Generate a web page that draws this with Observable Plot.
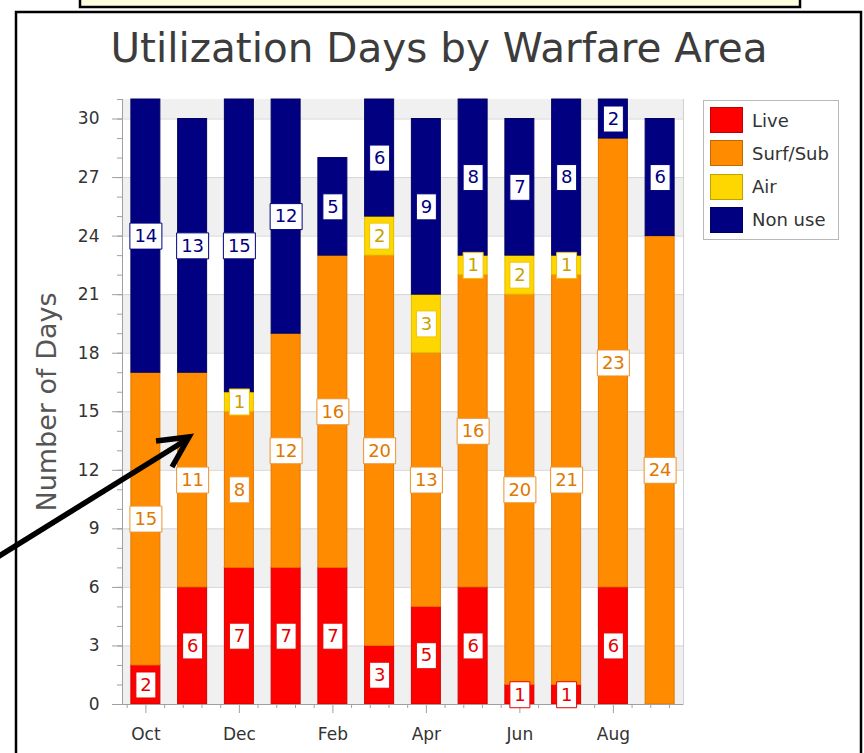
<!DOCTYPE html>
<html>
<head>
<meta charset="utf-8">
<script src="https://cdn.jsdelivr.net/npm/d3@7"></script>
<script src="https://cdn.jsdelivr.net/npm/@observablehq/plot@0.6"></script>
<style>
  html, body { margin: 0; padding: 0; background: #ffffff; }
  #wrap { position: relative; width: 864px; height: 753px; overflow: hidden; font-family: "DejaVu Sans", sans-serif; }
  #wrap > svg { position: absolute; left: 0; top: 0; }
  #legend { position: absolute; left: 703px; top: 100px; width: 136px; height: 140px; border: 1px solid #b8b8b8; background: #fff; box-sizing: border-box; }
  .lrow { position: absolute; left: 6px; height: 26px; display: flex; align-items: center; }
  .sw { width: 33px; height: 26px; box-sizing: border-box; border: 1px solid rgba(0,0,0,0.25); }
  .lt { margin-left: 9px; font-size: 18px; color: #333; white-space: nowrap; }
  #deco { position: absolute; left: 0; top: 0; pointer-events: none; }
</style>
</head>
<body>
<div id="wrap"></div>
<script>
// ---- data ----
const months = ["Oct","Nov","Dec","Jan","Feb","Mar","Apr","May","Jun","Jul","Aug","Sep"];
const seriesNames = ["Live","Surf/Sub","Air","Non use"];
const live    = [2, 6, 7, 7, 7, 3, 5, 6, 1, 1, 6, 0];
const surfSub = [15,11, 8,12,16,20,13,16,20,21,23,24];
const air     = [0, 0, 1, 0, 0, 2, 3, 1, 2, 1, 0, 0];
const nonUse  = [14,13,15,12, 5, 6, 9, 8, 7, 8, 2, 6];
const yTicks = [0,3,6,9,12,15,18,21,24,27,30];
const xTickLabels = ["Oct","Dec","Feb","Apr","Jun","Aug"];
const titleText = "Utilization Days by Warfare Area";
const yLabelText = "Number of Days";

// ---- styles ----
const fillColors  = ["#ff0000","#ff8c00","#ffd700","#000080"];
const edgeColors  = ["#d00000","#e27600","#e2bc00","#000060"];
const textColors  = ["#e60000","#e07800","#c9a200","#000080"];
const boxColors   = ["#e60000","#f0902a","#eec300","#000080"];

const seriesValues = [live, surfSub, air, nonUse];
const rows = [];
months.forEach((m, i) => {
  seriesNames.forEach((s, k) => {
    const v = seriesValues[k][i];
    if (v > 0) rows.push({month: m, series: s, value: v});
  });
});

// alternating background bands
const bands = [];
for (let i = 0; i < yTicks.length; i += 2) {
  const lo = yTicks[i];
  const hi = i + 1 < yTicks.length ? yTicks[i + 1] : 31;
  bands.push([lo, hi]);
}

const boxSymbol = (w, h) => ({ draw(ctx) { ctx.rect(-w / 2, -h / 2, w, h); } });
const narrowBox = boxSymbol(20, 26);
const wideBox = boxSymbol(32, 26);

const stacked = (extra) => Plot.stackY({x: "month", y: "value", ...extra});

const marks = [
  Plot.rect(bands, {y1: d => d[0], y2: d => d[1], fill: "#f0f0f0"}),
  Plot.ruleY(yTicks.filter(d => d > 0), {stroke: "#d6d6d6"})
];

seriesNames.forEach((s, k) => {
  marks.push(Plot.barY(rows, Plot.filter(d => d.series === s,
    stacked({fill: fillColors[k], stroke: edgeColors[k], strokeWidth: 1}))));
});

// axes
const step = 561 / 12;
marks.push(
  Plot.frame({anchor: "left", stroke: "#a0a0a0"}),
  Plot.frame({anchor: "right", stroke: "#d0d0d0"}),
  Plot.ruleY([0], {stroke: "#a0a0a0"}),
  Plot.axisY(d3.range(0, 32), {tickSize: 5, tickFormat: () => "", stroke: "#a0a0a0", label: null}),
  Plot.axisY(yTicks, {tickSize: 10, tickPadding: 13, fontSize: 17, fill: "#333", stroke: "#a0a0a0", label: null}),
  Plot.axisX(xTickLabels, {tickSize: 9, tickPadding: 14, fontSize: 17, fill: "#333", stroke: "#a0a0a0", label: null})
);
// minor x ticks
[-1, 1, 2, 3, 4].forEach(j => {
  let list = xTickLabels;
  if (j === -1) list = ["Oct"];
  if (j === 4) list = xTickLabels.slice(0, -1);
  marks.push(Plot.axisX(list, {tickSize: 4, tickFormat: () => "", stroke: "#a0a0a0", label: null, dx: j * step * 0.4}));
});

// value labels
seriesNames.forEach((s, k) => {
  marks.push(Plot.dot(rows, Plot.filter(d => d.series === s && d.value < 10,
    stacked({symbol: narrowBox, r: 1, fill: "white", stroke: boxColors[k], strokeWidth: 1}))));
  marks.push(Plot.dot(rows, Plot.filter(d => d.series === s && d.value >= 10,
    stacked({symbol: wideBox, r: 1, fill: "white", stroke: boxColors[k], strokeWidth: 1}))));
  marks.push(Plot.text(rows, Plot.filter(d => d.series === s,
    stacked({text: d => String(d.value), fill: textColors[k], fontSize: 18}))));
});

// title & y label
marks.push(
  Plot.text([titleText], {text: d => d, frameAnchor: "top", lineAnchor: "middle", textAnchor: "middle", dy: -50, dx: 36, fontSize: 40.5, fill: "#3c3c3c"}),
  Plot.text([yLabelText], {text: d => d, frameAnchor: "left", textAnchor: "middle", lineAnchor: "middle", rotate: -90, dx: -75, fontSize: 27, fill: "#555"})
);

const chart = Plot.plot({
  width: 864,
  height: 753,
  marginLeft: 122,
  marginRight: 181,
  marginTop: 99,
  marginBottom: 49,
  x: {domain: months, paddingInner: 0.38, paddingOuter: 0.19, round: false, axis: null},
  y: {domain: [0, 31], axis: null},
  style: {fontFamily: "DejaVu Sans, sans-serif", fontSize: "17px", color: "#333", background: "transparent", overflow: "visible"},
  marks
});

const wrap = document.getElementById("wrap");
wrap.appendChild(chart);

// legend
const legend = document.createElement("div");
legend.id = "legend";
seriesNames.forEach((s, k) => {
  const row = document.createElement("div");
  row.className = "lrow";
  row.style.top = (6 + k * 33.3) + "px";
  const sw = document.createElement("div");
  sw.className = "sw";
  sw.style.background = fillColors[k];
  const t = document.createElement("span");
  t.className = "lt";
  t.textContent = s;
  row.appendChild(sw);
  row.appendChild(t);
  legend.appendChild(row);
});
wrap.appendChild(legend);

// decorations: outer frame, top box, arrow
const NS = "http://www.w3.org/2000/svg";
const deco = document.createElementNS(NS, "svg");
deco.setAttribute("id", "deco");
deco.setAttribute("width", 864);
deco.setAttribute("height", 753);
deco.innerHTML = `
  <rect x="80" y="-4" width="720" height="11" fill="#ffffe0" stroke="#000" stroke-width="2.5"/>
  <path d="M16,760 V12 H861 V760" fill="none" stroke="#000" stroke-width="2.5"/>
  <line x1="-4" y1="558" x2="186" y2="440" stroke="#000" stroke-width="5.5"/>
  <polyline points="156,441 189,437 172,467" fill="none" stroke="#000" stroke-width="5.5" stroke-linejoin="miter" stroke-linecap="butt"/>
`;
wrap.appendChild(deco);
</script>
</body>
</html>
